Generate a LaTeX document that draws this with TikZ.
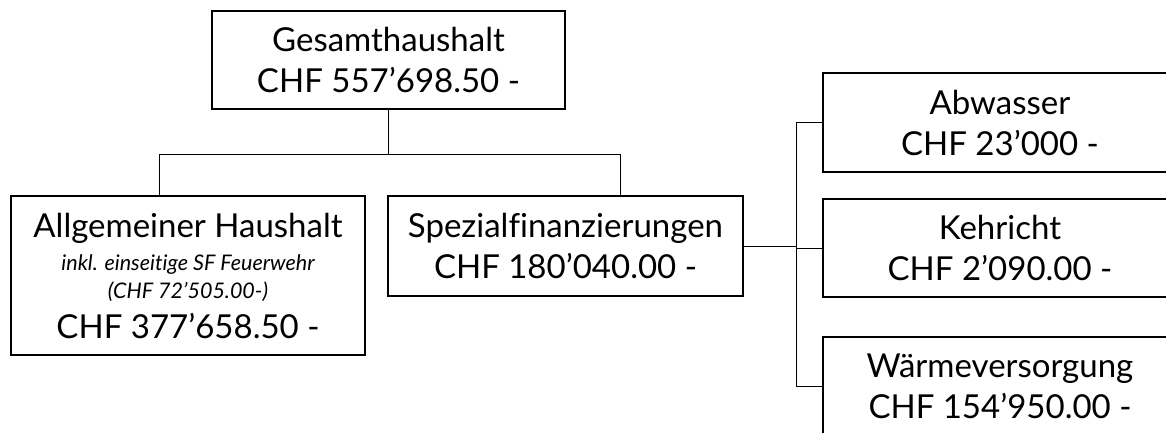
\documentclass[tikz,border=0pt]{standalone}
\usepackage{fontspec}
\setmainfont{Lato}[Ligatures={NoCommon}]
\begin{document}
\begin{tikzpicture}[x=1pt,y=-1pt,
  box/.style={draw=black,line width=1.2pt,rectangle,inner sep=0pt,align=center,
    font=\fontsize{33}{41}\selectfont},
  conn/.style={draw=black,line width=1pt}]
\useasboundingbox (0,0) rectangle (1166,432);
\node[box,minimum width=353pt,minimum height=98pt] (G) at (388.5,60)
  {Gesamthaushalt\\CHF 557’698.50 -};
\node[box,minimum width=354pt,minimum height=159pt] (A) at (188,275.5)
  {Allgemeiner Haushalt\\[-8pt]
   {\fontsize{21.5}{28}\selectfont\itshape inkl. einseitige SF Feuerwehr}\\[-13pt]
   {\fontsize{21.5}{28}\selectfont\itshape (CHF 72’505.00-)}\\[-1pt]
   CHF 377’658.50 -};
\node[box,minimum width=355pt,minimum height=100pt] (S) at (565.5,246)
  {Spezialfinanzierungen\\CHF 180’040.00 -};
\node[box,minimum width=354pt,minimum height=99pt] (W1) at (1000,122.5)
  {Abwasser\\CHF 23’000 -};
\node[box,minimum width=354pt,minimum height=98pt] (W2) at (1000,248)
  {Kehricht\\CHF 2’090.00 -};
\node[box,minimum width=354pt,minimum height=99pt] (W3) at (1000,386.5)
  {Wärmeversorgung\\CHF 154’950.00 -};
\coordinate (busL) at (159,154);
\coordinate (busR) at (620,154);
\coordinate (brx) at (796,246);
\draw[conn] (G.south) -- (G.south |- busL);
\draw[conn] (busL |- A.north) -- (busL) -- (busR) -- (busR |- S.north);
\draw[conn] (S.east) -- (brx);
\draw[conn] (W1.west -| brx) -- (W3.west -| brx);
\draw[conn] (W1.west -| brx) -- (W1.west);
\draw[conn] (W2.west -| brx) -- (W2.west);
\draw[conn] (W3.west -| brx) -- (W3.west);
\end{tikzpicture}
\end{document}
